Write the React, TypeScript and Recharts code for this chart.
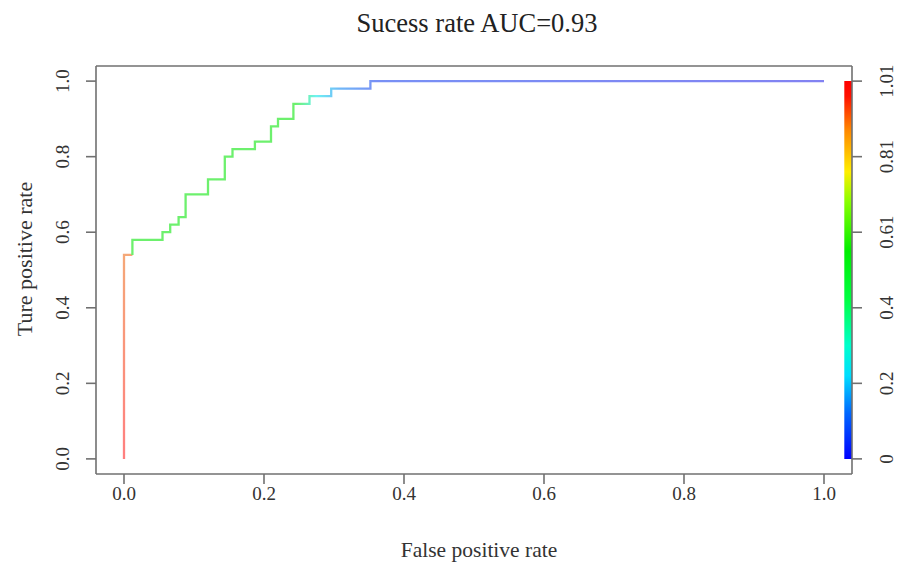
import React from 'react';
import { ComposedChart, Line, XAxis, YAxis, ReferenceArea, ReferenceLine, Label } from 'recharts';

// ---- data ----
const titleText = 'Sucess rate AUC=0.93';
const xAxisTitle = 'False positive rate';
const yAxisTitle = 'Ture positive rate';

// high-threshold part of the ROC curve (red -> orange)
const highFpr = [0, 0, 0.012];
const highTpr = [0, 0.54, 0.54];

// remaining stepped ROC curve (green -> cyan -> blue)
const mainFpr = [0.012, 0.012, 0.055, 0.066, 0.078, 0.088, 0.12, 0.144, 0.155, 0.187, 0.21, 0.22, 0.242, 0.265, 0.296, 0.352, 1.0];
const mainTpr = [0.54, 0.58, 0.6, 0.62, 0.64, 0.7, 0.74, 0.8, 0.82, 0.84, 0.88, 0.9, 0.94, 0.96, 0.98, 1.0, 1.0];

const axisTicks = [0, 0.2, 0.4, 0.6, 0.8, 1.0];
const colorbarTickLabels = ['0', '0.2', '0.4', '0.61', '0.81', '1.01'];
const colorbarX = [1.029, 1.04];
const colorbarY = [0, 1];
const domainRange = [-0.04, 1.04];

const highData = highFpr.map((x, i) => ({ x, y: highTpr[i] }));
const mainData = mainFpr.map((x, i) => ({ x, y: mainTpr[i] }));

const FONT = '"Liberation Serif", "Times New Roman", serif';
const AXIS_COLOR = '#707070';
const TEXT_COLOR = '#333333';

const LeftTick = (props: any) => {
  const { y, payload } = props;
  const bx = 69;
  return (
    <text x={bx} y={y} transform={`rotate(-90 ${bx} ${y})`} textAnchor="middle" fontFamily={FONT} fontSize={19} fill={TEXT_COLOR}>
      {Number(payload.value).toFixed(1)}
    </text>
  );
};

const RightTick = (props: any) => {
  const { y, payload, index } = props;
  const bx = 893;
  const idx = axisTicks.findIndex((t) => Math.abs(t - payload.value) < 1e-9);
  return (
    <text x={bx} y={y} transform={`rotate(-90 ${bx} ${y})`} textAnchor="middle" fontFamily={FONT} fontSize={19} fill={TEXT_COLOR}>
      {colorbarTickLabels[idx >= 0 ? idx : index]}
    </text>
  );
};

export default function App() {
  return (
    <div style={{ position: 'absolute', left: 0, top: 0, width: 902, height: 563, background: '#fff' }}>
      <div
        style={{
          position: 'absolute',
          left: 477,
          top: 10,
          transform: 'translateX(-50%)',
          fontFamily: FONT,
          fontSize: 26.5,
          lineHeight: 1,
          color: '#222',
          whiteSpace: 'nowrap',
        }}
      >
        {titleText}
      </div>
      <ComposedChart width={902} height={563} margin={{ top: 66, right: 10, bottom: 49, left: 36 }}>
        <defs>
          <linearGradient id="highGrad" x1="0" y1="1" x2="0" y2="0">
            <stop offset="0" stopColor="#ff7f7f" />
            <stop offset="1" stopColor="#f5a878" />
          </linearGradient>
          <linearGradient id="mainGrad" x1="0" y1="0" x2="1" y2="0">
            <stop offset="0" stopColor="#6df06d" />
            <stop offset="0.236" stopColor="#6df06d" />
            <stop offset="0.266" stopColor="#6ef2f2" />
            <stop offset="0.3" stopColor="#70b8f8" />
            <stop offset="0.352" stopColor="#7890f5" />
            <stop offset="1" stopColor="#8282f2" />
          </linearGradient>
          <linearGradient id="cbarGrad" x1="0" y1="1" x2="0" y2="0">
            <stop offset="0" stopColor="#0000ff" />
            <stop offset="0.12" stopColor="#0066ff" />
            <stop offset="0.22" stopColor="#00ddff" />
            <stop offset="0.3" stopColor="#00ffcc" />
            <stop offset="0.42" stopColor="#00ff44" />
            <stop offset="0.55" stopColor="#00ee00" />
            <stop offset="0.68" stopColor="#88ff00" />
            <stop offset="0.76" stopColor="#ffee00" />
            <stop offset="0.87" stopColor="#ff8800" />
            <stop offset="0.96" stopColor="#ff1100" />
            <stop offset="1" stopColor="#ff0000" />
          </linearGradient>
        </defs>
        <XAxis
          xAxisId="b"
          type="number"
          dataKey="x"
          domain={domainRange}
          allowDataOverflow
          ticks={axisTicks}
          tickFormatter={(v: number) => v.toFixed(1)}
          height={40}
          tickSize={10}
          tickMargin={3}
          axisLine={{ stroke: AXIS_COLOR, strokeWidth: 1.6 }}
          tickLine={{ stroke: AXIS_COLOR, strokeWidth: 1.6 }}
          tick={{ fontFamily: FONT, fontSize: 19, fill: TEXT_COLOR }}
        >
          <Label
            content={() => (
              <text x={479} y={557} textAnchor="middle" fontFamily={FONT} fontSize={21.5} fill={TEXT_COLOR}>
                {xAxisTitle}
              </text>
            )}
          />
        </XAxis>
        <YAxis
          yAxisId="l"
          type="number"
          domain={domainRange}
          allowDataOverflow
          ticks={axisTicks}
          width={60}
          tickSize={10}
          axisLine={{ stroke: AXIS_COLOR, strokeWidth: 1.6 }}
          tickLine={{ stroke: AXIS_COLOR, strokeWidth: 1.6 }}
          tick={<LeftTick />}
        >
          <Label
            content={() => (
              <text x={32} y={259} transform="rotate(-90 32 259)" textAnchor="middle" fontFamily={FONT} fontSize={22} fill={TEXT_COLOR}>
                {yAxisTitle}
              </text>
            )}
          />
        </YAxis>
        <YAxis
          yAxisId="r"
          orientation="right"
          type="number"
          domain={domainRange}
          allowDataOverflow
          ticks={axisTicks}
          width={40}
          tickSize={10}
          axisLine={{ stroke: AXIS_COLOR, strokeWidth: 1.6 }}
          tickLine={{ stroke: AXIS_COLOR, strokeWidth: 1.6 }}
          tick={<RightTick />}
        />
        <ReferenceLine xAxisId="b" yAxisId="l" y={domainRange[1]} stroke={AXIS_COLOR} strokeWidth={1.6} ifOverflow="visible" />
        <ReferenceArea
          xAxisId="b"
          yAxisId="l"
          x1={colorbarX[0]}
          x2={colorbarX[1]}
          y1={colorbarY[0]}
          y2={colorbarY[1]}
          fill="url(#cbarGrad)"
          fillOpacity={1}
          stroke="none"
          ifOverflow="visible"
        />
        <Line
          xAxisId="b"
          yAxisId="l"
          data={highData}
          dataKey="y"
          type="linear"
          stroke="url(#highGrad)"
          strokeWidth={2.3}
          dot={false}
          activeDot={false}
          isAnimationActive={false}
        />
        <Line
          xAxisId="b"
          yAxisId="l"
          data={mainData}
          dataKey="y"
          type="stepAfter"
          stroke="url(#mainGrad)"
          strokeWidth={2.3}
          dot={false}
          activeDot={false}
          isAnimationActive={false}
        />
      </ComposedChart>
    </div>
  );
}
